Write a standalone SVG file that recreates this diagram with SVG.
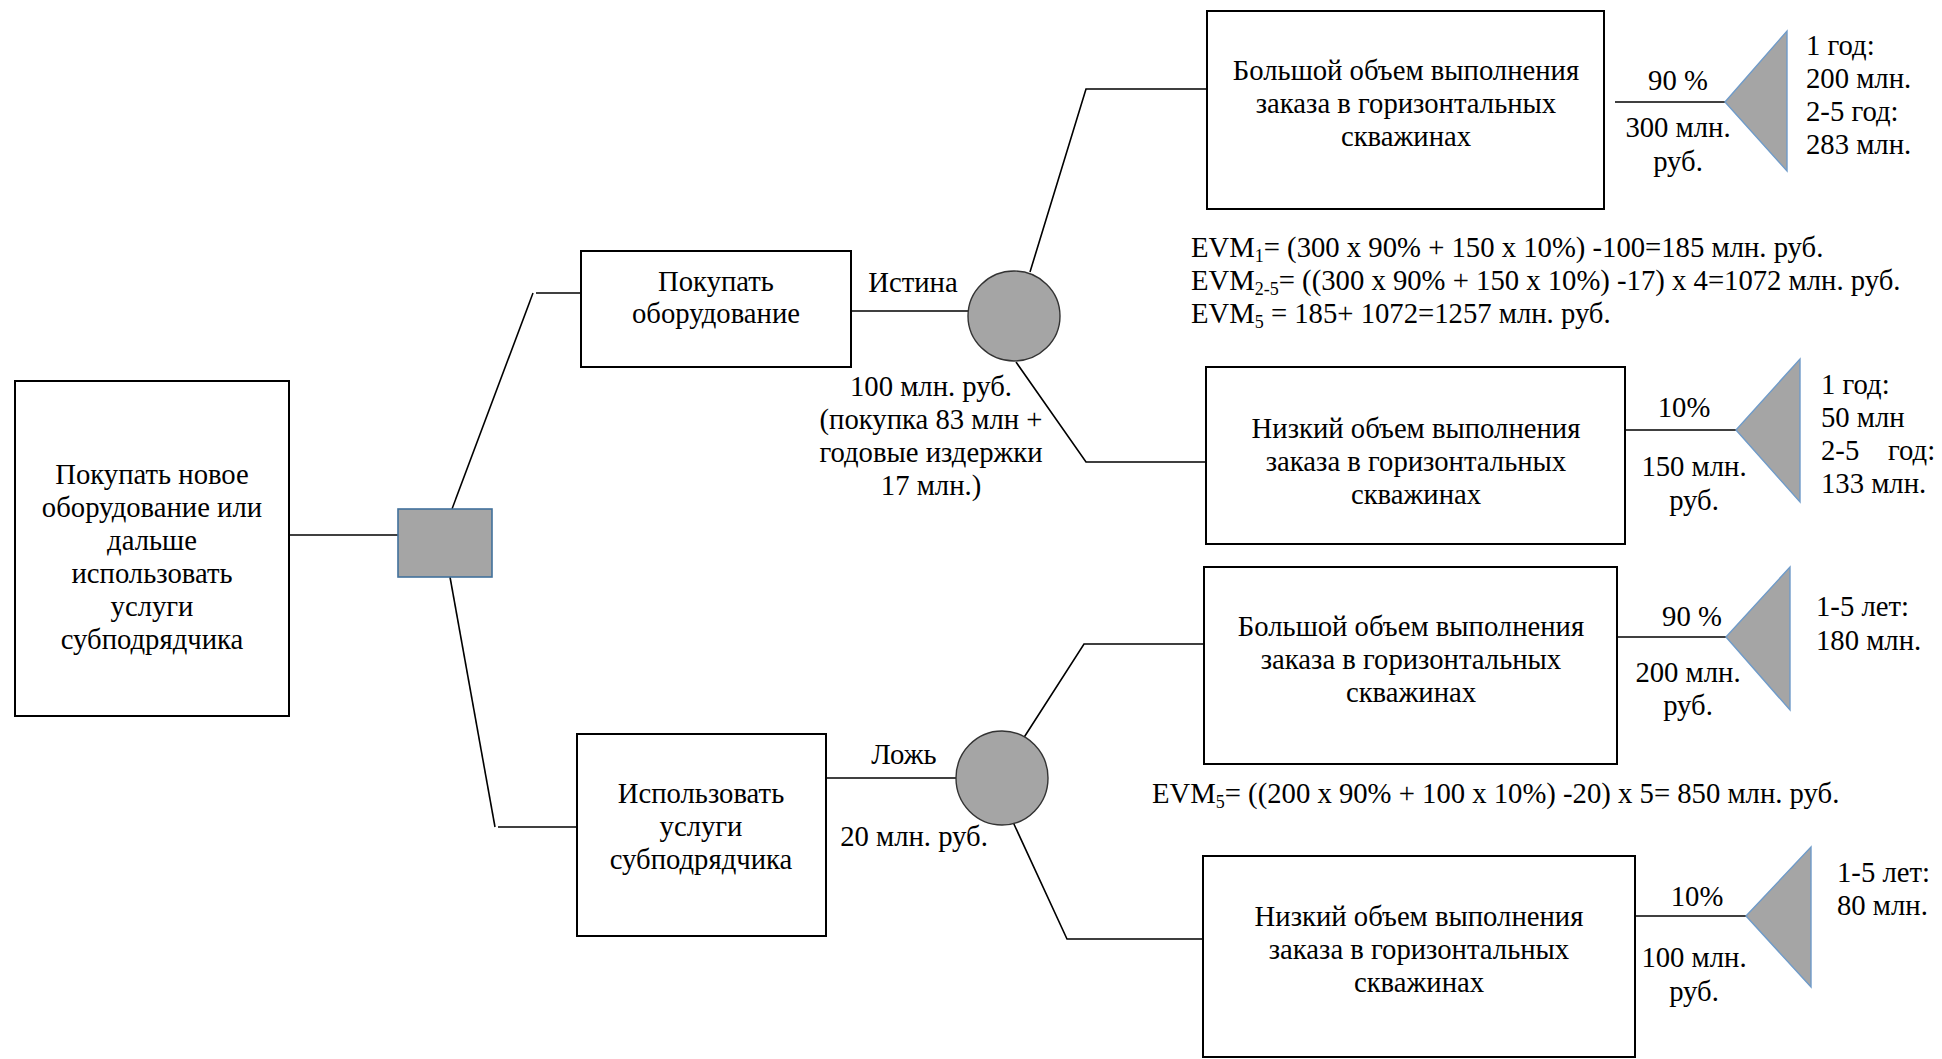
<svg xmlns="http://www.w3.org/2000/svg" width="1942" height="1059" viewBox="0 0 1942 1059">
<style>
text{font-family:"Liberation Serif","Times New Roman",serif;font-size:28.7px;fill:#000}
.c{text-anchor:middle}
.box{fill:#fff;stroke:#000;stroke-width:2}
.ln{fill:none;stroke:#000;stroke-width:1.6}
.sq{fill:#a5a5a5;stroke:#41719c;stroke-width:1.6}
.ci{fill:#a5a5a5;stroke:#333;stroke-width:1.4}
.tr{fill:#a5a5a5;stroke:#6f9bc9;stroke-width:1.4}
.sub{font-size:18px}
</style>
<rect width="1942" height="1059" fill="#fff"/>
<g id="connectors">
<line class="ln" x1="289" y1="535" x2="398" y2="535"/>
<polyline class="ln" points="452,509 533,293"/>
<line class="ln" x1="536" y1="293" x2="581" y2="293"/>
<polyline class="ln" points="450,577 495,827"/>
<line class="ln" x1="498" y1="827" x2="577" y2="827"/>
<line class="ln" x1="851" y1="311" x2="968" y2="311"/>
<polyline class="ln" points="1030,272 1086,89 1207,89"/>
<polyline class="ln" points="1016,362 1086,462 1206,462"/>
<line class="ln" x1="1615" y1="102" x2="1725" y2="102"/>
<line class="ln" x1="1625" y1="430" x2="1736" y2="430"/>
<line class="ln" x1="826" y1="778" x2="956" y2="778"/>
<polyline class="ln" points="1023,739 1084,644 1204,644"/>
<polyline class="ln" points="1013,822 1067,939 1203,939"/>
<line class="ln" x1="1617" y1="637" x2="1726" y2="637"/>
<line class="ln" x1="1635" y1="916" x2="1746" y2="916"/>
</g>
<g id="root">
<rect class="box" x="15" y="381" width="274" height="335"/>
<text class="c" x="152" y="484">Покупать новое</text>
<text class="c" x="152" y="517">оборудование или</text>
<text class="c" x="152" y="550">дальше</text>
<text class="c" x="152" y="583">использовать</text>
<text class="c" x="152" y="616">услуги</text>
<text class="c" x="152" y="649">субподрядчика</text>
</g>
<g id="decision">
<rect class="sq" x="398" y="509" width="94" height="68"/>
</g>
<g id="buy">
<rect class="box" x="581" y="251" width="270" height="116"/>
<text class="c" x="716" y="291">Покупать</text>
<text class="c" x="716" y="323">оборудование</text>
</g>
<g id="buy-labels">
<text class="c" x="913" y="292">Истина</text>
<text class="c" x="931" y="396">100 млн. руб.</text>
<text class="c" x="931" y="429">(покупка 83 млн +</text>
<text class="c" x="931" y="462">годовые издержки</text>
<text class="c" x="931" y="495">17 млн.)</text>
</g>
<g id="chance-buy">
<ellipse class="ci" cx="1014" cy="316" rx="46" ry="45"/>
</g>
<g id="buy-high">
<rect class="box" x="1207" y="11" width="397" height="198"/>
<text class="c" x="1406" y="80">Большой объем выполнения</text>
<text class="c" x="1406" y="113">заказа в горизонтальных</text>
<text class="c" x="1406" y="146">скважинах</text>
<text class="c" x="1678" y="90">90 %</text>
<text class="c" x="1678" y="137">300 млн.</text>
<text class="c" x="1678" y="171">руб.</text>
</g>
<g id="buy-high-end">
<polygon class="tr" points="1725,102 1787,31 1787,171"/>
<text x="1806" y="55">1 год:</text>
<text x="1806" y="88">200 млн.</text>
<text x="1806" y="121">2-5 год:</text>
<text x="1806" y="154">283 млн.</text>
</g>
<g id="evm-buy">
<text x="1191" y="257">EVM<tspan class="sub" dy="5">1</tspan><tspan dy="-5">= (300 x 90% + 150 x 10%) -100=185 млн. руб.</tspan></text>
<text x="1191" y="290">EVM<tspan class="sub" dy="5">2-5</tspan><tspan dy="-5">= ((300 x 90% + 150 x 10%) -17) x 4=1072 млн. руб.</tspan></text>
<text x="1191" y="323">EVM<tspan class="sub" dy="5">5</tspan><tspan dy="-5"> = 185+ 1072=1257 млн. руб.</tspan></text>
</g>
<g id="buy-low">
<rect class="box" x="1206" y="367" width="419" height="177"/>
<text class="c" x="1416" y="438">Низкий объем выполнения</text>
<text class="c" x="1416" y="471">заказа в горизонтальных</text>
<text class="c" x="1416" y="504">скважинах</text>
<text class="c" x="1684" y="417">10%</text>
<text class="c" x="1694" y="476">150 млн.</text>
<text class="c" x="1694" y="510">руб.</text>
</g>
<g id="buy-low-end">
<polygon class="tr" points="1736,430 1800,359 1800,502"/>
<text x="1821" y="394">1 год:</text>
<text x="1821" y="427">50 млн</text>
<text x="1821" y="460">2-5<tspan x="1888">год:</tspan></text>
<text x="1821" y="493">133 млн.</text>
</g>
<g id="sub">
<rect class="box" x="577" y="734" width="249" height="202"/>
<text class="c" x="701" y="803">Использовать</text>
<text class="c" x="701" y="836">услуги</text>
<text class="c" x="701" y="869">субподрядчика</text>
</g>
<g id="sub-labels">
<text class="c" x="904" y="764">Ложь</text>
<text class="c" x="914" y="846">20 млн. руб.</text>
</g>
<g id="chance-sub">
<ellipse class="ci" cx="1002" cy="778" rx="46" ry="47"/>
</g>
<g id="sub-high">
<rect class="box" x="1204" y="567" width="413" height="197"/>
<text class="c" x="1411" y="636">Большой объем выполнения</text>
<text class="c" x="1411" y="669">заказа в горизонтальных</text>
<text class="c" x="1411" y="702">скважинах</text>
<text class="c" x="1692" y="626">90 %</text>
<text class="c" x="1688" y="682">200 млн.</text>
<text class="c" x="1688" y="715">руб.</text>
</g>
<g id="sub-high-end">
<polygon class="tr" points="1726,637 1790,567 1790,710"/>
<text x="1816" y="616">1-5 лет:</text>
<text x="1816" y="650">180 млн.</text>
</g>
<g id="evm-sub">
<text x="1152" y="803">EVM<tspan class="sub" dy="5">5</tspan><tspan dy="-5">= ((200 x 90% + 100 x 10%) -20) x 5= 850 млн. руб.</tspan></text>
</g>
<g id="sub-low">
<rect class="box" x="1203" y="856" width="432" height="201"/>
<text class="c" x="1419" y="926">Низкий объем выполнения</text>
<text class="c" x="1419" y="959">заказа в горизонтальных</text>
<text class="c" x="1419" y="992">скважинах</text>
<text class="c" x="1697" y="906">10%</text>
<text class="c" x="1694" y="967">100 млн.</text>
<text class="c" x="1694" y="1001">руб.</text>
</g>
<g id="sub-low-end">
<polygon class="tr" points="1746,916 1811,847 1811,987"/>
<text x="1837" y="882">1-5 лет:</text>
<text x="1837" y="915">80 млн.</text>
</g>
</svg>
